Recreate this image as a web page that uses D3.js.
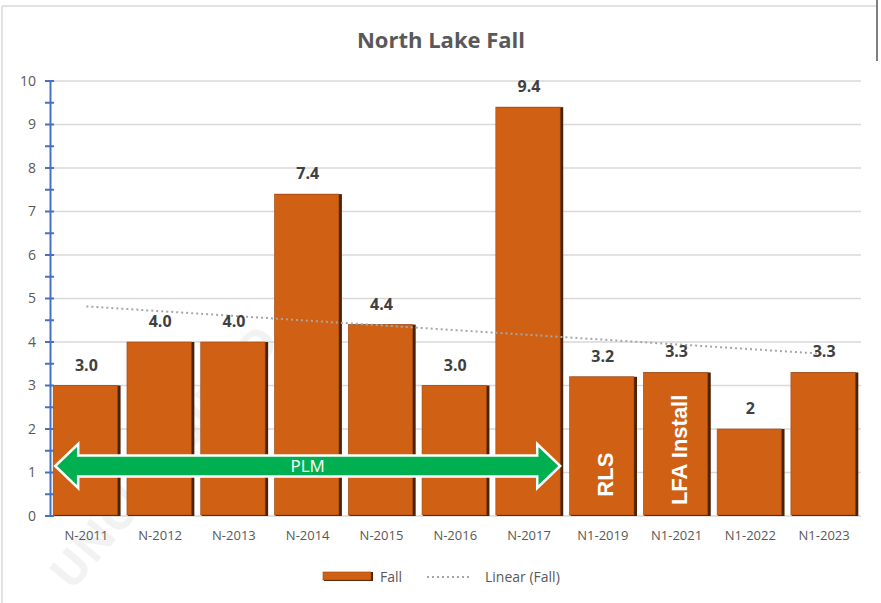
<!DOCTYPE html>
<html>
<head>
<meta charset="utf-8">
<script src="https://cdn.jsdelivr.net/npm/d3@7"></script>
<style>
  body { margin: 0; background: #fff; }
  svg text { font-family: "Open Sans", "Liberation Sans", sans-serif; }
</style>
</head>
<body>
<div id="chart"></div>
<script>
// data
const categories = ["N-2011", "N-2012", "N-2013", "N-2014", "N-2015", "N-2016", "N-2017", "N1-2019", "N1-2021", "N1-2022", "N1-2023"];
const fallValues = [3.0, 4.0, 4.0, 7.4, 4.4, 3.0, 9.4, 3.2, 3.3, 2, 3.3];
const valueLabels = ["3.0", "4.0", "4.0", "7.4", "4.4", "3.0", "9.4", "3.2", "3.3", "2", "3.3"];
const yTicks = [0, 1, 2, 3, 4, 5, 6, 7, 8, 9, 10];
const barNotes = [{ cat: "N1-2019", text: "RLS" }, { cat: "N1-2021", text: "LFA Install" }];
const plmSpan = { from: "N-2011", to: "N-2017", text: "PLM" };

// where the annotations sit (in axis units)
const noteCenter = { "RLS": 0.95, "LFA Install": 1.52 };
const plmLevel = 1.15;

const W = 881, H = 603;
const svg = d3.select("#chart").append("svg")
  .attr("width", W).attr("height", H);

// chart frame
svg.append("line").attr("x1", 2).attr("x2", 877).attr("y1", 6).attr("y2", 6)
  .attr("stroke", "#d9d9d9").attr("stroke-width", 1.5);
svg.append("line").attr("x1", 2).attr("x2", 2).attr("y1", 6).attr("y2", H)
  .attr("stroke", "#d9d9d9").attr("stroke-width", 1.5);
svg.append("line").attr("x1", 877).attr("x2", 877).attr("y1", 0).attr("y2", 61)
  .attr("stroke", "#555").attr("stroke-width", 1.5);

// faint watermark, mostly hidden behind the bars
svg.append("text")
  .attr("transform", "translate(72,592) rotate(-50)")
  .style("font-size", "46px")
  .style("font-weight", "bold")
  .style("fill", "#f2f2f2")
  .text("UNCLASSIFIED");

const x = d3.scaleBand()
  .domain(categories)
  .range([49.5, 861])
  .paddingInner(0.1)
  .paddingOuter(0.05);

const y = d3.scaleLinear()
  .domain([0, 10])
  .range([516, 81]);

// title
svg.append("text")
  .attr("x", 441).attr("y", 48)
  .attr("text-anchor", "middle")
  .style("font-size", "22px")
  .style("font-weight", "bold")
  .style("fill", "#595959")
  .text("North Lake Fall");

// gridlines
svg.append("g")
  .selectAll("line")
  .data(yTicks)
  .enter().append("line")
  .attr("x1", 50).attr("x2", 861)
  .attr("y1", d => y(d)).attr("y2", d => y(d))
  .attr("stroke", "#d9d9d9").attr("stroke-width", 1.5);

// bars: dark bevel shadow then the face
const bars = svg.append("g");
bars.selectAll(".shadow")
  .data(fallValues)
  .enter().append("rect")
  .attr("class", "shadow")
  .attr("x", (d, i) => x(categories[i]) + 1)
  .attr("y", d => y(d))
  .attr("width", x.bandwidth())
  .attr("height", d => y(0) - y(d))
  .attr("fill", "#4a2307");
bars.selectAll(".bar")
  .data(fallValues)
  .enter().append("rect")
  .attr("class", "bar")
  .attr("x", (d, i) => x(categories[i]))
  .attr("y", d => y(d))
  .attr("width", x.bandwidth() - 2)
  .attr("height", d => y(0) - y(d) - 1)
  .attr("fill", "#d06114")
  .attr("stroke", "#9c4510")
  .attr("stroke-width", 0.6);

// y axis (blue, ticks crossing)
const yAxis = svg.append("g")
  .attr("transform", "translate(50,0)")
  .call(d3.axisLeft(y).tickValues(yTicks).tickSize(0).tickPadding(14));
yAxis.select(".domain").attr("stroke", "#4472c4").attr("stroke-width", 2);
yAxis.selectAll("text").style("font-size", "14px").style("fill", "#595959");
const halfTicks = d3.range(0, 10.01, 0.5);
yAxis.selectAll(".mt")
  .data(halfTicks)
  .enter().append("line")
  .attr("class", "mt")
  .attr("x1", -5).attr("x2", 4)
  .attr("y1", d => y(d)).attr("y2", d => y(d))
  .attr("stroke", "#4472c4").attr("stroke-width", 2);

// x axis labels
const xAxis = svg.append("g")
  .attr("transform", `translate(0,${y(0)})`)
  .call(d3.axisBottom(x).tickSize(0).tickPadding(15));
xAxis.select(".domain").remove();
xAxis.selectAll("text").style("font-size", "13px").style("fill", "#595959");

// linear trendline (least squares over the series)
const xs = fallValues.map((d, i) => i + 1);
const mx = d3.mean(xs), my = d3.mean(fallValues);
const slope = d3.sum(xs, (v, i) => (v - mx) * (fallValues[i] - my)) / d3.sum(xs, v => (v - mx) ** 2);
const icpt = my - slope * mx;
const first = categories[0], last = categories[categories.length - 1];
svg.append("line")
  .attr("x1", x(first) + x.bandwidth() / 2)
  .attr("x2", x(last) + x.bandwidth() / 2)
  .attr("y1", y(icpt + slope * 1))
  .attr("y2", y(icpt + slope * categories.length))
  .attr("stroke", "#a6a6a6")
  .attr("stroke-width", 2)
  .attr("stroke-dasharray", "2,3");

// value labels
svg.append("g").selectAll("text")
  .data(fallValues)
  .enter().append("text")
  .attr("x", (d, i) => x(categories[i]) + x.bandwidth() / 2)
  .attr("y", d => y(d) - 15)
  .attr("text-anchor", "middle")
  .style("font-size", "16px")
  .style("font-weight", "bold")
  .style("fill", "#404040")
  .text((d, i) => valueLabels[i]);

// rotated notes inside bars
svg.append("g").selectAll("text")
  .data(barNotes)
  .enter().append("text")
  .attr("transform", d => `translate(${x(d.cat) + x.bandwidth() / 2 + 10},${y(noteCenter[d.text])}) rotate(-90)`)
  .attr("text-anchor", "middle")
  .style("font-family", "'Liberation Sans', Arial, sans-serif")
  .style("font-size", "22px")
  .style("font-weight", "bold")
  .style("fill", "#fff")
  .text(d => d.text);

// PLM double arrow
const ax0 = x(plmSpan.from) + 2, ax1 = x(plmSpan.to) + x.bandwidth() - 2;
const ay = y(plmLevel);
const head = 23, hh = 22, sh = 10.5;
const arrow = d3.path();
arrow.moveTo(ax0, ay);
arrow.lineTo(ax0 + head, ay - hh);
arrow.lineTo(ax0 + head, ay - sh);
arrow.lineTo(ax1 - head, ay - sh);
arrow.lineTo(ax1 - head, ay - hh);
arrow.lineTo(ax1, ay);
arrow.lineTo(ax1 - head, ay + hh);
arrow.lineTo(ax1 - head, ay + sh);
arrow.lineTo(ax0 + head, ay + sh);
arrow.lineTo(ax0 + head, ay + hh);
arrow.closePath();
svg.append("path")
  .attr("d", arrow.toString())
  .attr("fill", "#00b050")
  .attr("stroke", "#fff")
  .attr("stroke-width", 2.5);
svg.append("text")
  .attr("x", (ax0 + ax1) / 2)
  .attr("y", ay + 6)
  .attr("text-anchor", "middle")
  .style("font-size", "17px")
  .style("fill", "#fff")
  .text(plmSpan.text);

// legend
const lg = svg.append("g");
lg.append("rect").attr("x", 324).attr("y", 572).attr("width", 49).attr("height", 9)
  .attr("fill", "#4a2307");
lg.append("rect").attr("x", 323).attr("y", 572).attr("width", 48).attr("height", 8)
  .attr("fill", "#d06114").attr("stroke", "#9c4510").attr("stroke-width", 0.6);
lg.append("text").attr("x", 380).attr("y", 582)
  .style("font-size", "14px").style("fill", "#595959").text("Fall");
lg.append("line").attr("x1", 427).attr("x2", 470).attr("y1", 577).attr("y2", 577)
  .attr("stroke", "#a6a6a6").attr("stroke-width", 2).attr("stroke-dasharray", "2,3");
lg.append("text").attr("x", 485).attr("y", 582)
  .style("font-size", "14px").style("fill", "#595959").text("Linear (Fall)");
</script>
</body>
</html>
